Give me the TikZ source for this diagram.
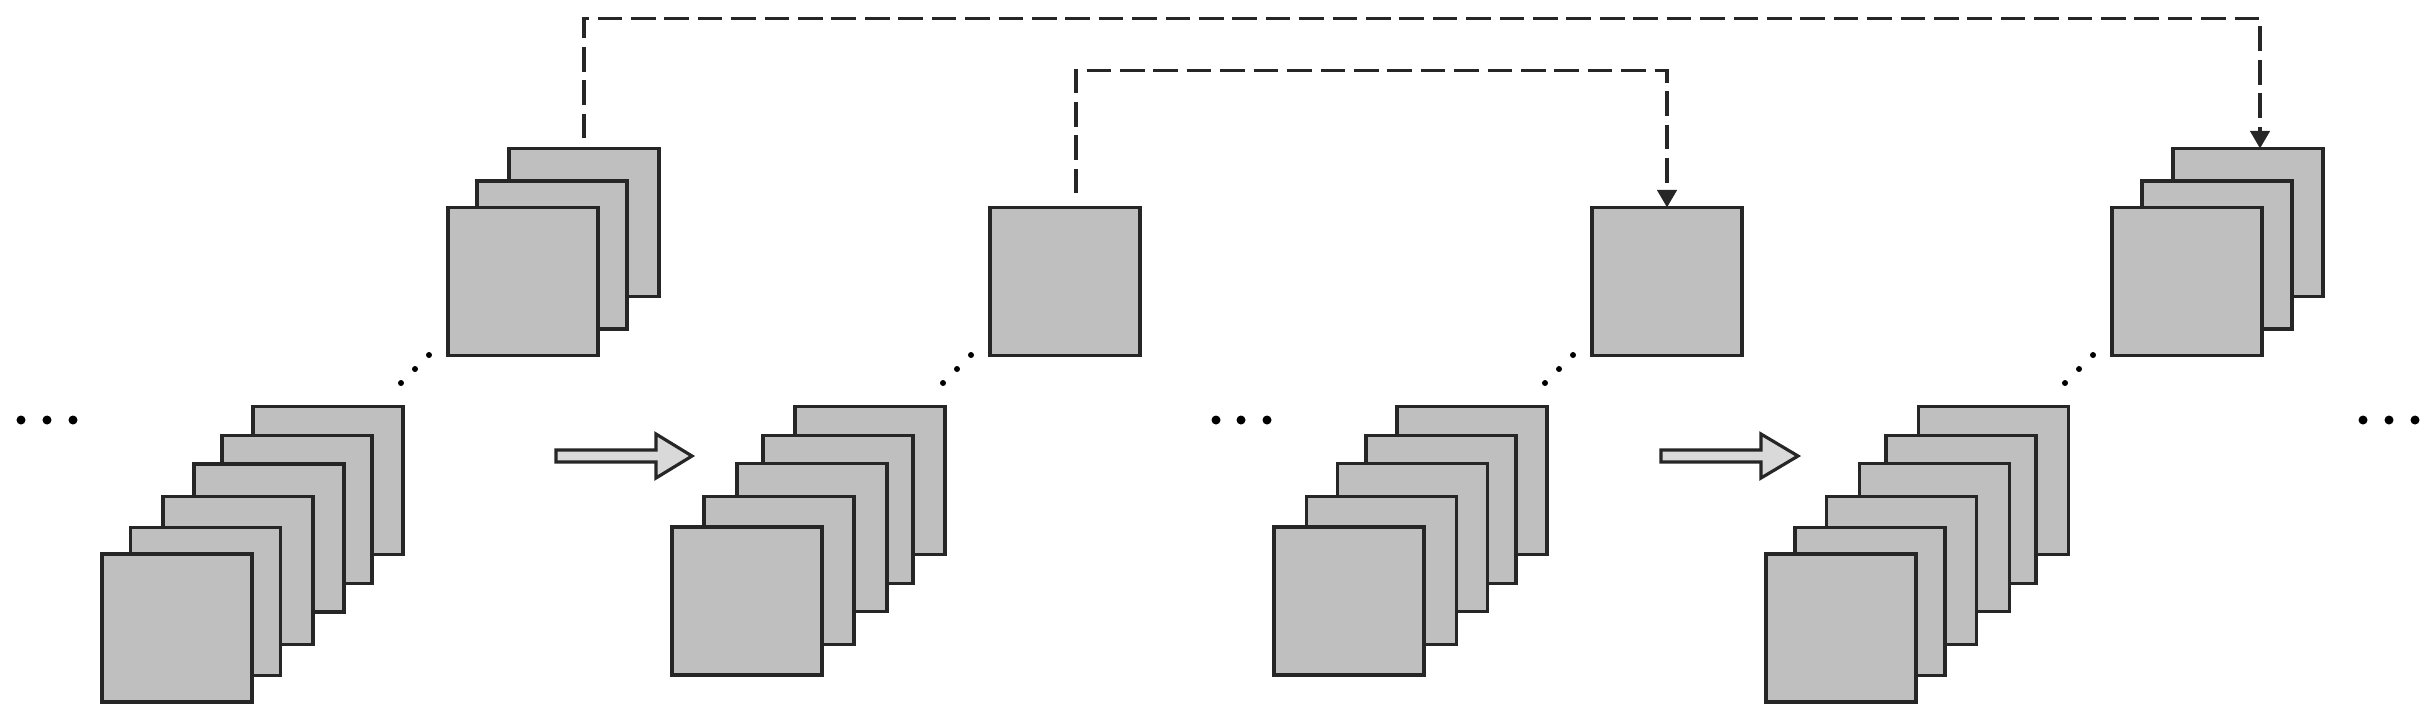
\documentclass[tikz,border=0pt]{standalone}
\usetikzlibrary{arrows.meta}
\begin{document}
\begin{tikzpicture}[x=0.01cm,y=-0.01cm,
  sq/.style={draw=black!85, fill=black!25, line width=0.9pt, minimum width=1.5cm, minimum height=1.48cm, inner sep=0pt, outer sep=0pt},
  link/.style={draw=black!85, line width=1pt, dash pattern=on 7pt off 2.5pt},
  tip/.style={-{Triangle[length=5pt,width=5.5pt]}},
  blk/.style={draw=black!85, fill=black!15, line width=0.9pt, line join=miter},
  bigdot/.style={fill=black},
  smalldot/.style={fill=black}]
\useasboundingbox (0,0) rectangle (2436,717);

% lower stack 1
\node[sq] (A6) at (328,480.5) {};
\node[sq] (A5) at (297,509.5) {};
\node[sq] (A4) at (269,538) {};
\node[sq] (A3) at (238,570.5) {};
\node[sq] (A2) at (205.5,601.5) {};
\node[sq] (A1) at (177,628) {};
% upper stack 1
\node[sq] (B3) at (584,222.5) {};
\node[sq] (B2) at (552,255) {};
\node[sq] (B1) at (523,281.5) {};
% lower stack 2
\node[sq] (C5) at (870,480.5) {};
\node[sq] (C4) at (838,509.5) {};
\node[sq] (C3) at (812,537.5) {};
\node[sq] (C2) at (779,570.5) {};
\node[sq] (C1) at (747,601) {};
% single upper 2
\node[sq] (D) at (1065,281.5) {};
% lower stack 3
\node[sq] (E5) at (1472,480.5) {};
\node[sq] (E4) at (1441,509.5) {};
\node[sq] (E3) at (1412.5,537.5) {};
\node[sq] (E2) at (1381.5,570.5) {};
\node[sq] (E1) at (1349,601) {};
% single upper 3
\node[sq] (F) at (1667,281.5) {};
% lower stack 4
\node[sq] (G6) at (1993.5,480.5) {};
\node[sq] (G5) at (1961,509.5) {};
\node[sq] (G4) at (1934.5,537.5) {};
\node[sq] (G3) at (1901.5,570.5) {};
\node[sq] (G2) at (1870,601.5) {};
\node[sq] (G1) at (1841,628) {};
% upper stack 4
\node[sq] (H3) at (2248,222.5) {};
\node[sq] (H2) at (2217,255) {};
\node[sq] (H1) at (2187,281.5) {};

% dashed skip connections
\draw[link,tip] ([yshift=0.1cm]B3.north) -- ++(0,-120) -| ([xshift=0.12cm]H3.north);
\draw[link,tip] ([xshift=0.11cm,yshift=0.14cm]D.north) -- ++(0,-123) -| (F.north);

% block arrows
\draw[blk] (556,450) -- ++(100,0) -- ++(0,-16) -- ++(36,22) -- ++(-36,22) -- ++(0,-16) -- ++(-100,0) -- cycle;
\draw[blk] (1661,450) -- ++(100,0) -- ++(0,-16) -- ++(37,22) -- ++(-37,22) -- ++(0,-16) -- ++(-100,0) -- cycle;

% horizontal dots
\foreach \x in {21,47,73,1216,1241,1267,2363,2389,2415}
  \fill[bigdot] (\x,420) circle (0.045cm);

% diagonal dots
\foreach \x in {401,943,1545,2065}{
  \fill[smalldot] (\x,383) circle (0.03cm);
  \fill[smalldot] (\x+14,369) circle (0.03cm);
  \fill[smalldot] (\x+28,355) circle (0.03cm);
}
\end{tikzpicture}
\end{document}
